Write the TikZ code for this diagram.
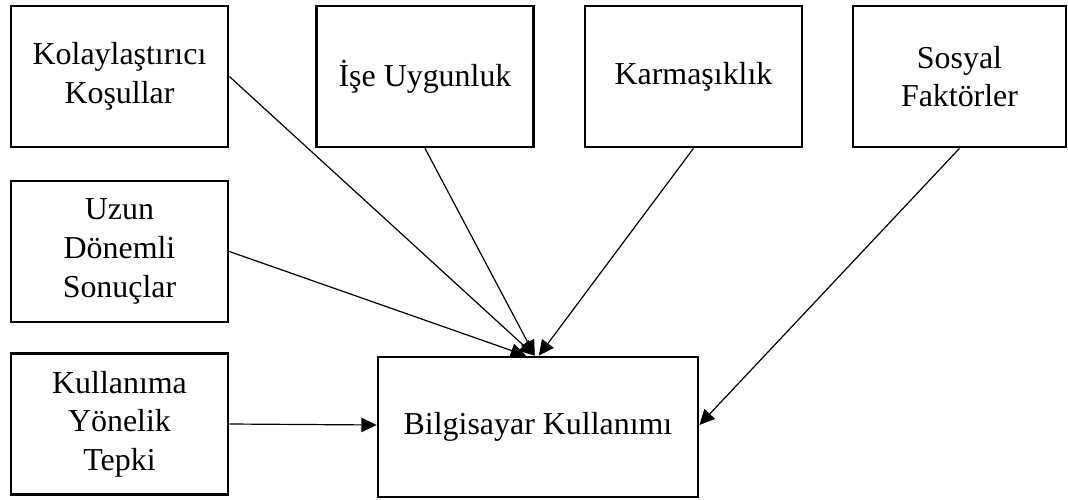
\documentclass[tikz,border=0pt]{standalone}
\usepackage{fontspec}
\setmainfont{Liberation Serif}
\usetikzlibrary{arrows.meta}
\begin{document}
\begin{tikzpicture}[x=0.025cm,y=-0.025cm,
  factor/.style={draw, line width=1.9pt, align=center, inner sep=0pt,
    minimum width=5.425cm, minimum height=3.525cm,
    font=\fontsize{22.7}{27.5}\selectfont},
  link/.style={line width=0.85pt, -{Triangle[length=0.38cm,width=0.36cm]}}]
  \useasboundingbox (0,0) rectangle (1068,500);
  % top row of factors
  \node[factor] (kol)  at (119.5,76.5) {Kolaylaştırıcı\\Koşullar};
  \node[factor] (ise)  at (425,76.5)   {İşe Uygunluk};
  \node[factor] (karm) at (693.5,76.5) {Karmaşıklık};
  \node[factor, minimum width=5.325cm] (sos) at (959.5,76.5) {Sosyal\\Faktörler};
  % left column of factors
  \node[factor] (uzun) at (119.5,251.5) {Uzun\\Dönemli\\Sonuçlar};
  \node[factor] (kul)  at (119.5,424)   {Kullanıma\\Yönelik\\Tepki};
  % outcome
  \node[factor, minimum width=8cm, minimum height=3.5cm] (bil) at (538,427) {Bilgisayar Kullanımı};
  % influences
  \draw[link] (kol.east)  -- ([xshift=-0.08cm]bil.north);
  \draw[link] (ise.south) -- ([xshift=-0.08cm]bil.north);
  \draw[link] (uzun.east) -- ([xshift=-0.3cm]bil.north);
  \draw[link] (karm.south) -- ([xshift=0.02cm]bil.north);
  \draw[link] (sos.south) -- ([yshift=0.05cm]bil.east);
  \draw[link] (kul.east) -- ([yshift=0.05cm]bil.west);
\end{tikzpicture}
\end{document}
